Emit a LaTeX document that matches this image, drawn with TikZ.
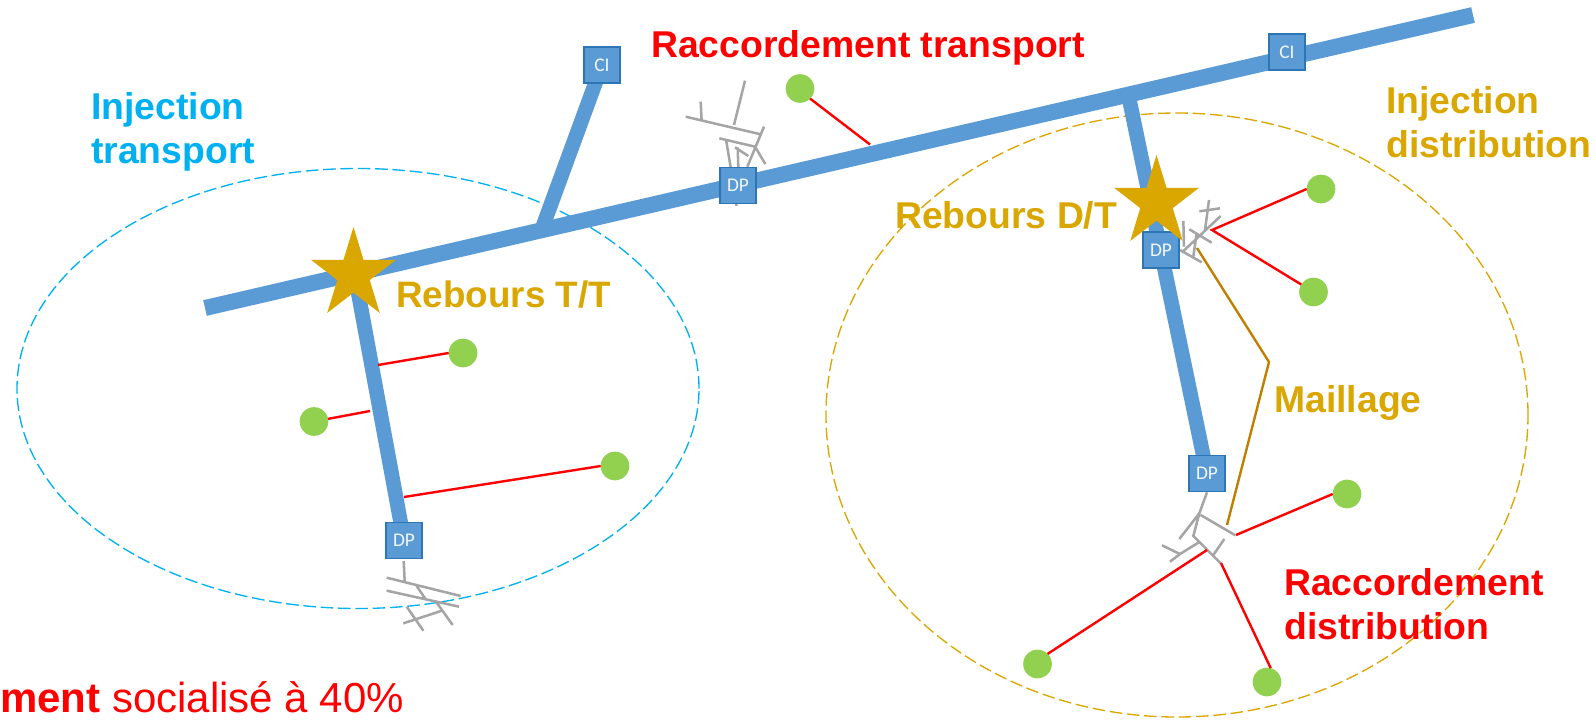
\documentclass[tikz,border=0pt]{standalone}
\usepackage{fontspec}
\setmainfont{Liberation Sans}
\newfontfamily\boxfont{Carlito}
\usetikzlibrary{shapes.geometric}
\definecolor{pipeblue}{HTML}{5B9BD5}
\definecolor{boxedge}{HTML}{2E75B6}
\definecolor{leaf}{HTML}{92D050}
\definecolor{gold}{HTML}{DAA600}
\definecolor{sky}{HTML}{00B0F0}
\definecolor{brownline}{HTML}{BF7F00}
\definecolor{netgray}{HTML}{A5A5A5}
\tikzset{
  pipe/.style={draw=pipeblue,line width=12pt},
  pipethin/.style={draw=pipeblue,line width=11pt},
  station/.style={draw=boxedge,line width=1.2pt,fill=pipeblue,minimum size=27pt,inner sep=0pt,outer sep=0pt,text=white!92!pipeblue,font=\boxfont\fontsize{14.5}{16}\selectfont},
  customer/.style={circle,fill=leaf,minimum size=21.5pt,inner sep=0pt,outer sep=0pt},
  link/.style={draw=red,line width=1.8pt},
  bigstar/.style={star,star points=5,star point ratio=2.618,fill=gold,minimum size=67pt,inner sep=0pt,outer sep=0pt,transform shape},
  net/.style={draw=netgray,line width=1.9pt},
  label/.style={anchor=west,inner sep=0pt,align=left,font=\fontsize{28}{32.8}\selectfont\bfseries},
  zone/.style={dash pattern=on 9.5pt off 3.5pt,line width=1pt},
}
\begin{document}
\begin{tikzpicture}[x=.75pt,y=-.75pt]
\path[use as bounding box] (0,0) rectangle (1596,721);
\clip (0,0) rectangle (1596,721);
% zones
\node[zone,draw=sky,ellipse,minimum width=511.5pt,minimum height=330pt,inner sep=0pt] (zoneL) at (358,388.5) {};
\node[zone,draw=gold,ellipse,minimum width=526.5pt,minimum height=453pt,inner sep=0pt] (zoneR) at (1177,415) {};
% stations and pipeline anchors
\coordinate (mainA) at (205,308);
\coordinate (mainB) at (1473,15);
\coordinate (tapCI) at (543,226);
\coordinate (tapR) at (1129,98);
\coordinate (tapL) at (354,270);
\coordinate (posCIa) at (602,65);
\coordinate (posCIb) at (1287,52);
\coordinate (posDPa) at (738,185.5);
\coordinate (posDPb) at (1161,250);
\coordinate (posDPc) at (1207,473.5);
\coordinate (posDPd) at (404,540.5);
% grey networks, behind the pipes
\begin{scope}[shift={(640,50)},scale=1/3]
\draw[net] (315,92)--(282,225) (182,155)--(185,215) (137,200)--(358,252) (372,230)--(322,350)
 (238,265)--(345,290) (258,268)--(272,352) (293,292)--(295,352) (285,292)--(325,318) (345,290)--(376,342) (289,440)--(289,468);
\end{scope}
\begin{scope}[shift={(1100,150)},scale=1/3]
\draw[net] (298,184)--(360,175) (327,150)--(315,240) (362,198)--(245,308) (268,238)--(335,278)
 (250,213)--(252,290) (240,300)--(305,337) (290,250)--(280,320);
\end{scope}
\begin{scope}[shift={(1130,450)},scale=1/3]
\draw[net] (231,127)--(208,190) (148,267)--(208,190)--(190,258)--(272,340) (212,195)--(316,256)
 (283,267)--(250,315) (205,278)--(150,312) (96,286)--(150,312) (120,335)--(150,312);
\end{scope}
\begin{scope}[shift={(360,510)},scale=1/3]
\draw[net] (131,153)--(134,213) (80,203)--(302,258) (80,242)--(297,290) (170,228)--(197,268)
 (228,275)--(278,345) (140,290)--(190,362) (130,340)--(243,303);
\end{scope}
% pipes
\draw[pipe] (mainA)--(mainB);
\draw[pipethin] (tapCI)--(posCIa);
\draw[pipethin] (tapR)--(posDPc);
\draw[pipethin] (tapL)--(posDPd);
% stations
\node[station] (ci1) at (posCIa) {CI};
\node[station] (ci2) at (posCIb) {CI};
\node[station] (dp1) at (posDPa) {DP};
\node[station] (dp2) at (posDPb) {DP};
\node[station] (dp3) at (posDPc) {DP};
\node[station] (dp4) at (posDPd) {DP};
% stars
\begin{scope}[shift={(353.5,274.5)},yscale=1.064]
\node[bigstar] (starL) at (0,0) {};
\end{scope}
\begin{scope}[shift={(1156.5,202.5)},yscale=1.064]
\node[bigstar] (starR) at (0,0) {};
\end{scope}
% customers
\node[customer] (g1) at (800,88.5) {};
\node[customer] (g2) at (463,353) {};
\node[customer] (g3) at (314,421.5) {};
\node[customer] (g4) at (615,466) {};
\node[customer] (g5) at (1321,189) {};
\node[customer] (g6) at (1313.5,292) {};
\node[customer] (g7) at (1347,494) {};
\node[customer] (g8) at (1037.5,664) {};
\node[customer] (g9) at (1267,682) {};
% free ends
\coordinate (e1) at (870,144.5);
\coordinate (e2) at (378,365);
\coordinate (e3) at (370,411);
\coordinate (e4) at (404,497);
\coordinate (e5) at (1212,230);
\coordinate (e7) at (1236,535);
\coordinate (e8) at (1207,550);
\coordinate (e9) at (1221,563);
\coordinate (m1) at (1197,248);
\coordinate (m2) at (1269,362);
\coordinate (m3) at (1227,525);
\draw[link] (g1.south east)--(e1);
\draw[link] (g2.west)--(e2);
\draw[link] (g3)--(e3);
\draw[link] (g4.west)--(e4);
\draw[link] (g5.west)--(e5)--(g6);
\draw[link] (g7.west)--(e7);
\draw[link] (g8.north east)--(e8);
\draw[link] (g9.75)--(e9);
\draw[draw=brownline,line width=1.8pt] (m1)--(m2)--(m3);
% labels
\node[label,text=red] (t1) at (651,47.5) {Raccordement transport};
\node[label,text=sky] (t2) at (91,131.5) {Injection\\transport};
\node[label,text=gold] (t3) at (1386,122.5) {Injection\\distribution};
\node[label,text=gold,font=\fontsize{27.6}{32.8}\selectfont\bfseries] (t4) at (396,294.5) {Rebours T/T};
\node[label,text=gold] (t5) at (895,215) {Rebours D/T};
\node[label,text=gold] (t6) at (1274,403) {Maillage};
\node[label,text=red] (t7) at (1284,604) {Raccordement\\distribution};
\node[anchor=west,inner sep=0pt,text=red,font=\fontsize{31.5}{36}\selectfont] (t8) at (0,697) {\textbf{ment} socialisé à 40\%};
\end{tikzpicture}
\end{document}
